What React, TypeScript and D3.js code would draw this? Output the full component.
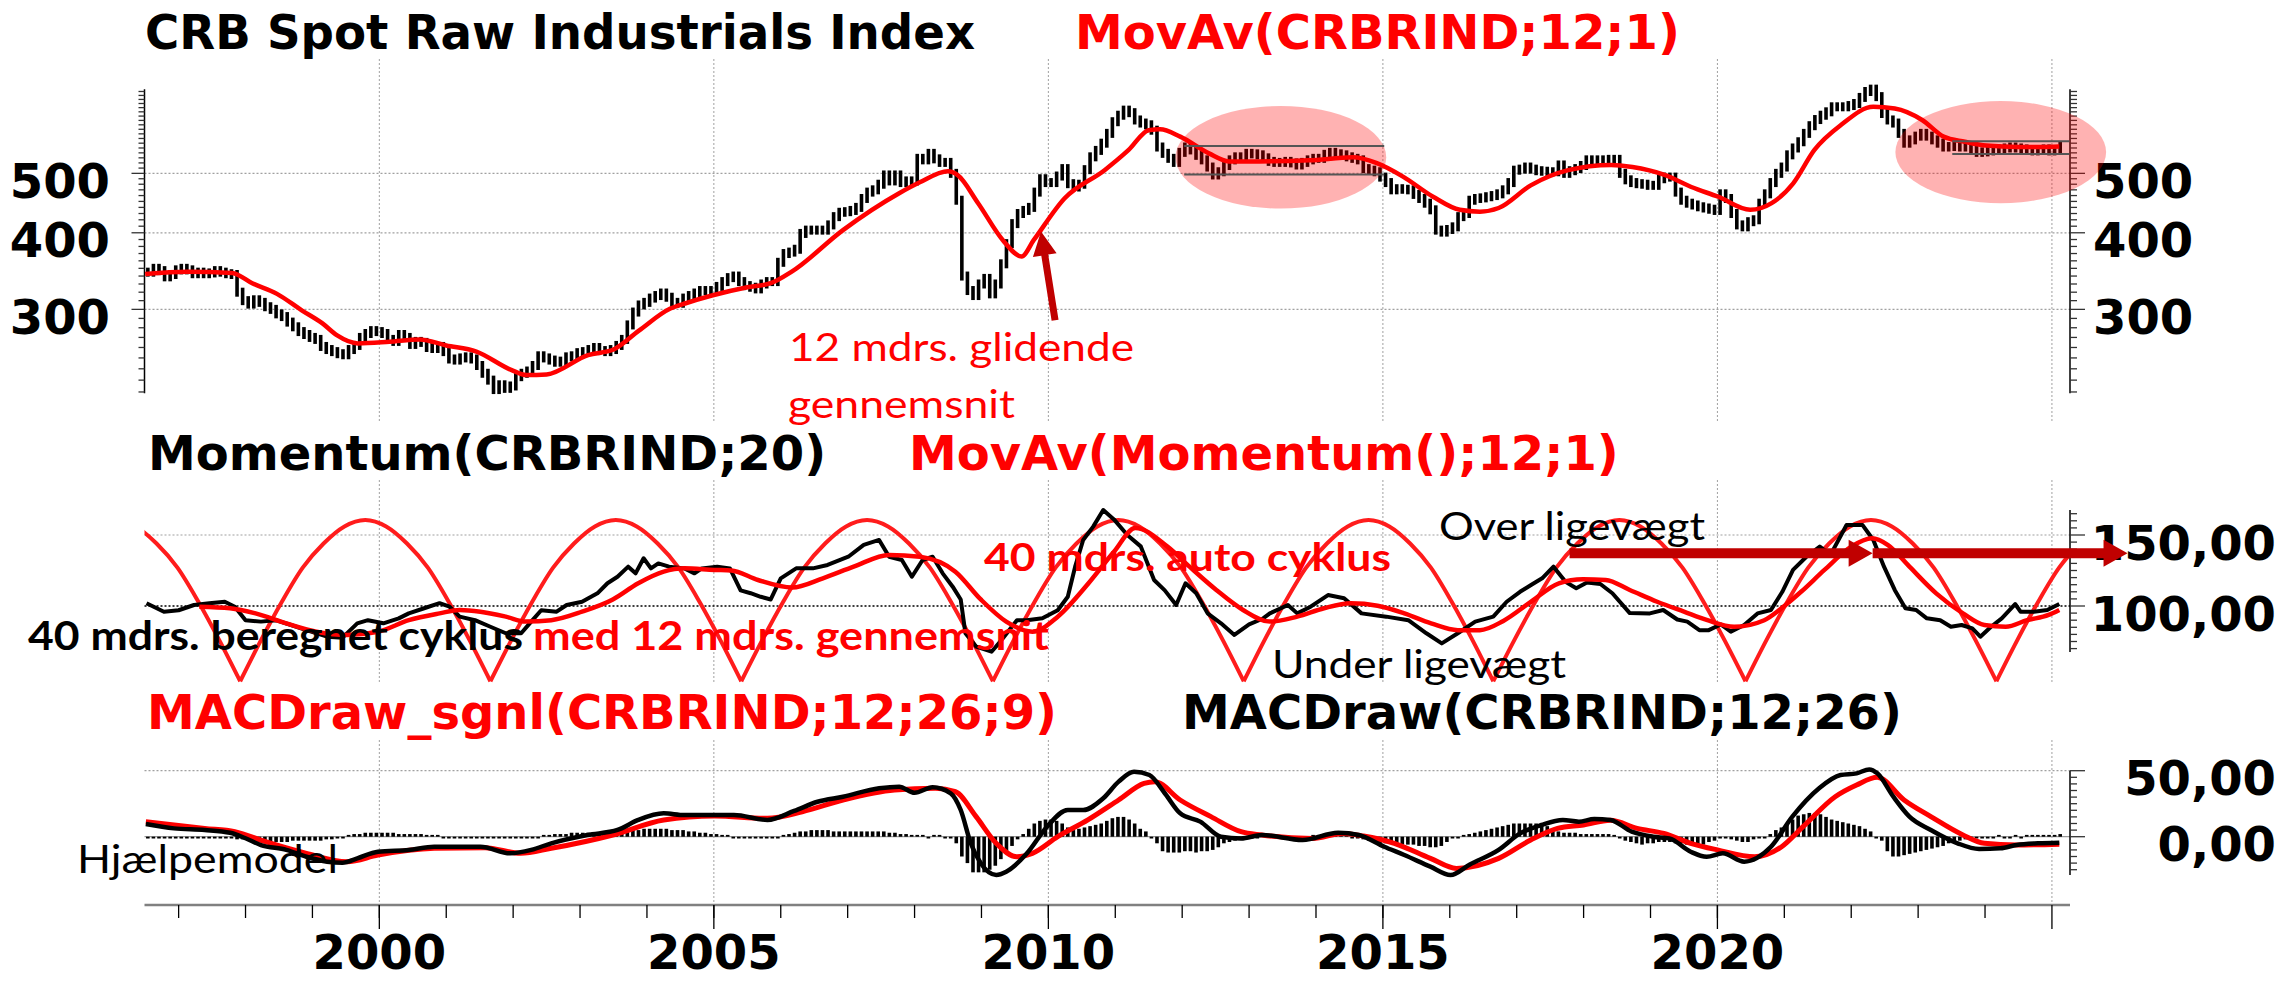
import React from "react";
import * as d3 from "d3";

const WIDTH = 2287;
const HEIGHT = 981;

// CRB Spot Raw Industrials, monthly closes, first month Jul 1996
const crbFirstMonth = 1996.5;
const crbMonthly = [
  345, 350, 347, 339, 342, 348,
  350, 348, 343, 345, 343, 344, 347, 345, 343, 342, 320, 310,
  306, 311, 308, 303, 300, 295, 292, 286, 281, 276, 273, 270,
  268, 261, 258, 256, 254, 253, 258, 262, 270, 274, 277, 276,
  274, 268, 266, 273, 270, 263, 266, 265, 260, 259, 261, 256,
  249, 248, 250, 251, 249, 243, 236, 230, 222, 226, 223, 225,
  233, 236, 238, 243, 252, 250, 248, 246, 247, 251, 252, 255,
  256, 258, 260, 257, 256, 258, 262, 268, 283, 297, 305, 308,
  313, 316, 319, 314, 308, 307, 313, 316, 319, 322, 322, 322,
  327, 333, 338, 340, 333, 328, 326, 324, 330, 333, 333, 358,
  370, 372, 376, 399, 404, 404, 404, 404, 412, 425, 432, 433,
  435, 440, 455, 466, 470, 480, 497, 486, 497, 483, 486, 486,
  529, 526, 539, 528, 521, 521, 500, 452, 340, 322, 316, 330,
  337, 318, 330, 356, 384, 414, 430, 435, 440, 466, 490, 483,
  483, 495, 509, 481, 475, 480, 507, 532, 545, 560, 581, 607,
  622, 634, 628, 611, 604, 600, 588, 552, 539, 529, 521, 541,
  552, 546, 535, 526, 512, 497, 503, 515, 526, 532, 529, 539,
  538, 536, 530, 523, 521, 521, 523, 520, 516, 521, 526, 529,
  529, 537, 541, 538, 536, 532, 529, 526, 509, 506, 503, 493,
  483, 470, 472, 471, 470, 462, 455, 447, 436, 404, 401, 405,
  409, 425, 430, 452, 455, 456, 458, 460, 463, 470, 483, 506,
  508, 512, 508, 505, 504, 503, 503, 516, 500, 505, 509, 515,
  526, 526, 526, 525, 527, 527, 500, 488, 483, 481, 480, 478,
  478, 490, 493, 493, 466, 452, 447, 444, 441, 439, 437, 435,
  463, 455, 430, 412, 409, 417, 420, 447, 463, 483, 500, 512,
  536, 550, 563, 581, 598, 612, 622, 630, 642, 642, 642, 645,
  650, 665, 680, 686, 667, 626, 611, 604, 581, 560, 567, 575,
  581, 575, 567, 560, 552, 553, 555, 552, 552, 546, 541, 542,
  544, 546, 548, 550, 552, 550, 548, 546, 544, 546, 548, 544,
  546, 555,
];

// MovAv(CRBRIND;12;1) [year, value]
const crbMovAv: [number, number][] = [
  [1996.5, 342.6], [1997.13, 345.5], [1997.8, 344], [1998.1, 331], [1998.47, 318],
  [1998.84, 299], [1999.15, 284.6], [1999.37, 272], [1999.68, 264], [2000.15, 265.7],
  [2000.6, 268], [2001.0, 262], [2001.45, 256], [2001.97, 239], [2002.2, 234.4],
  [2002.5, 235], [2003.12, 252.7], [2003.5, 258], [2003.88, 277], [2004.35, 301],
  [2004.58, 307], [2004.97, 316], [2005.5, 326], [2005.85, 331], [2006.17, 346],
  [2006.93, 404], [2007.77, 464], [2008.07, 483], [2008.5, 504], [2008.64, 497],
  [2008.95, 447], [2009.32, 389], [2009.6, 366], [2009.78, 389], [2010.24, 455],
  [2010.84, 506], [2011.2, 546], [2011.5, 588], [2011.67, 590], [2011.97, 574],
  [2012.4, 539], [2012.7, 523], [2013.15, 523], [2013.9, 525], [2014.55, 531],
  [2014.9, 520], [2015.3, 494], [2015.75, 458], [2016.15, 436], [2016.45, 433],
  [2016.73, 439], [2017.21, 478], [2017.77, 506], [2018.41, 516], [2018.73, 512],
  [2019.21, 497], [2019.61, 475], [2020.01, 458], [2020.49, 436], [2020.81, 447],
  [2021.13, 481], [2021.45, 546], [2021.85, 600], [2022.33, 642], [2022.65, 638],
  [2023.06, 611], [2023.38, 574], [2023.7, 563], [2024.02, 555], [2024.5, 552],
  [2024.82, 552], [2025.11, 553],
];

// Momentum(CRBRIND;20)
const momentum: [number, number][] = [
  [1996.52, 101.9], [1996.78, 96], [1997.0, 97], [1997.23, 100.7], [1997.46, 102],
  [1997.69, 103], [1997.84, 99.5], [1998.0, 90], [1998.23, 89], [1998.45, 90],
  [1998.68, 86.6], [1998.91, 83], [1999.22, 78.4], [1999.45, 77.7], [1999.67, 87.8],
  [1999.83, 90], [2000.06, 87.8], [2000.29, 91.3], [2000.44, 94.8], [2000.67, 98.4],
  [2000.9, 102], [2001.05, 99.5], [2001.2, 92.5], [2001.43, 90], [2001.66, 85.4],
  [2001.89, 80.8], [2002.12, 80.8], [2002.27, 89], [2002.42, 97], [2002.65, 96],
  [2002.8, 100.7], [2003.03, 103], [2003.26, 108.9], [2003.41, 116], [2003.56, 120.6],
  [2003.72, 127.7], [2003.83, 123], [2003.95, 133.6], [2004.06, 126.5], [2004.17, 130],
  [2004.33, 127.7], [2004.56, 126.5], [2004.71, 123], [2004.82, 126.5], [2005.05, 127.7],
  [2005.24, 126.5], [2005.4, 111], [2005.55, 109], [2005.7, 106.5], [2005.85, 104.6],
  [2006.0, 119.5], [2006.23, 126.5], [2006.48, 126.5], [2006.7, 128.9], [2007.01, 134.7],
  [2007.24, 143], [2007.47, 146.5], [2007.62, 134.7], [2007.81, 132.4], [2007.96, 120.6],
  [2008.12, 132.4], [2008.27, 134.7], [2008.42, 123], [2008.57, 113.6], [2008.69, 104.6],
  [2008.76, 80.8], [2008.92, 71.4], [2009.15, 67.8], [2009.3, 76], [2009.53, 90],
  [2009.68, 90], [2009.91, 91.3], [2010.14, 97], [2010.29, 106.5], [2010.4, 127.7],
  [2010.52, 146.5], [2010.67, 155.9], [2010.82, 167.6], [2010.98, 161], [2011.18, 150],
  [2011.38, 142], [2011.58, 118.3], [2011.74, 111], [2011.91, 100.7], [2012.05, 116],
  [2012.21, 109], [2012.38, 94.8], [2012.58, 87.8], [2012.78, 79.6], [2013.0, 87],
  [2013.2, 91], [2013.31, 94.8], [2013.58, 100.7], [2013.72, 94.8], [2013.92, 99.5],
  [2014.18, 107.7], [2014.42, 105.4], [2014.68, 94.8], [2015.05, 92.5], [2015.38, 90],
  [2015.65, 80.8], [2015.88, 73.7], [2016.12, 80.8], [2016.38, 89], [2016.65, 92.5],
  [2016.85, 103], [2017.05, 110], [2017.22, 115], [2017.38, 119.5], [2017.55, 127.7],
  [2017.73, 117], [2017.89, 112.5], [2018.05, 116.5], [2018.25, 115.5], [2018.43, 109],
  [2018.69, 95], [2018.99, 94.8], [2019.19, 97.2], [2019.4, 90.5], [2019.55, 89],
  [2019.73, 83], [2019.87, 83], [2020.05, 87], [2020.2, 81.9], [2020.4, 86.6],
  [2020.6, 94.8], [2020.8, 97.2], [2020.97, 110], [2021.13, 125.4], [2021.33, 134.7],
  [2021.53, 141.8], [2021.69, 136], [2021.93, 157], [2022.17, 157], [2022.33, 146.5],
  [2022.49, 127.7], [2022.65, 111.3], [2022.81, 98.4], [2022.97, 97.2], [2023.13, 91.3],
  [2023.33, 90], [2023.49, 85.4], [2023.65, 86.6], [2023.81, 84.2], [2023.93, 78.4],
  [2024.09, 85.4], [2024.25, 91.3], [2024.45, 101.4], [2024.53, 96], [2024.73, 96],
  [2024.93, 97.2], [2025.11, 101.4],
];

// MovAv(Momentum();12;1)
const momentumMovAv: [number, number][] = [
  [1997.31, 99.5], [1997.77, 98.4], [1998.15, 94.8], [1998.61, 87.8], [1999.06, 81.9],
  [1999.52, 79.6], [1999.98, 81.9], [2000.44, 90], [2000.9, 94.8], [2001.2, 97.2],
  [2001.51, 96], [2001.89, 92.5], [2002.19, 89], [2002.57, 90], [2003.03, 96],
  [2003.49, 104.6], [2003.87, 116], [2004.25, 124.2], [2004.56, 126.5], [2005.01, 125.4],
  [2005.26, 125], [2005.66, 118.3], [2006.17, 113], [2006.63, 119.5], [2007.09, 127.7],
  [2007.62, 136], [2008.08, 134.7], [2008.61, 124.2], [2008.99, 104.6], [2009.37, 89],
  [2009.76, 81.9], [2010.14, 92.5], [2010.6, 116], [2010.98, 138.2], [2011.3, 155],
  [2011.78, 141.8], [2012.11, 127.7], [2012.51, 111.3], [2012.91, 97.2], [2013.31, 89],
  [2013.72, 92.5], [2014.12, 98.4], [2014.52, 101.9], [2014.92, 100.2], [2015.32, 94.8],
  [2015.72, 87.8], [2016.12, 83], [2016.45, 83], [2016.8, 89.5], [2017.2, 102.5],
  [2017.63, 116], [2017.99, 118.8], [2018.33, 118.3], [2018.69, 111.3], [2019.1, 103],
  [2019.5, 96], [2019.85, 90], [2020.25, 85.4], [2020.7, 90], [2021.0, 100],
  [2021.25, 110], [2021.6, 125.4], [2022.0, 141.8], [2022.31, 147.7], [2022.55, 142.9],
  [2022.87, 127.7], [2023.27, 108.9], [2023.67, 94.8], [2023.99, 86.6], [2024.31, 85.4],
  [2024.63, 90], [2024.95, 93.7], [2025.11, 97.2],
];

// 40 mdrs. auto cyklus: trough dates and the level profile of one cycle
const cycleTroughs = [1994.17, 1997.92, 2001.66, 2005.41, 2009.17, 2012.92, 2016.65, 2020.42, 2024.17, 2027.92];
const cycleProfile = [47, 76, 103, 127, 144, 156, 160.5, 156, 144, 127, 103, 76, 47];

// MACDraw(CRBRIND;12;26)
const macdLine: [number, number][] = [
  [1996.51, 9.6], [1996.93, 6.3], [1997.39, 5.1], [1997.77, 3.0], [1998.0, -1.2],
  [1998.23, -6.3], [1998.61, -10], [1998.91, -15.2], [1999.22, -18.9], [1999.45, -19.7],
  [1999.67, -16.4], [1999.98, -11.4], [2000.44, -10], [2000.82, -7.6], [2001.51, -7.6],
  [2001.96, -12.6], [2002.27, -10], [2002.57, -5], [2003.11, 1.3], [2003.56, 5.1],
  [2003.87, 12.7], [2004.25, 17.7], [2004.56, 16.4], [2005.3, 16.4], [2005.8, 12.7],
  [2006.2, 19.5], [2006.55, 26.5], [2006.93, 30.3], [2007.47, 36.7], [2007.77, 37.9],
  [2008.0, 33.3], [2008.27, 37.4], [2008.54, 32.9], [2008.69, 20.2], [2008.84, -5],
  [2008.99, -20.2], [2009.22, -29], [2009.37, -26.5], [2009.68, -12.6], [2009.98, 7.6],
  [2010.29, 20.2], [2010.52, 20.2], [2010.82, 29.1], [2011.05, 41.7], [2011.28, 49.2],
  [2011.51, 46.7], [2011.74, 32.9], [2011.97, 17.7], [2012.27, 11.4], [2012.58, 0],
  [2012.88, -1.3], [2013.19, 1.3], [2013.8, -2.5], [2014.33, 3.0], [2014.64, 1.3],
  [2015.02, -7.6], [2015.32, -13.9], [2015.71, -22.7], [2016.01, -29], [2016.3, -21],
  [2016.73, -10], [2017.05, 2.5], [2017.37, 8.9], [2017.69, 12.7], [2017.93, 11.4],
  [2018.16, 13.4], [2018.4, 12.7], [2018.72, 3.8], [2019.04, 0], [2019.28, -1.3],
  [2019.6, -11.4], [2019.84, -15.2], [2020.08, -12.6], [2020.4, -18.9], [2020.8, -7.6],
  [2021.12, 15.2], [2021.52, 36.7], [2021.84, 46.7], [2022.08, 48], [2022.27, 51],
  [2022.39, 48], [2022.63, 30.3], [2022.87, 15.2], [2023.19, 5.1], [2023.59, -5],
  [2023.91, -9.3], [2024.23, -8.8], [2024.47, -6.3], [2024.79, -5], [2025.11, -4.5],
];

// MACDraw_sgnl(CRBRIND;12;26;9)
const macdSignal: [number, number][] = [
  [1996.51, 11.4], [1997.39, 6.3], [1997.84, 3.8], [1998.3, -3.8], [1998.91, -12.6],
  [1999.52, -18.9], [1999.98, -13.9], [2000.82, -8.8], [2001.58, -8.3], [2002.11, -12.6],
  [2002.57, -8.8], [2003.49, 1.3], [2004.25, 12.7], [2005.01, 15.7], [2005.8, 13.9],
  [2006.32, 18.9], [2006.93, 27.8], [2007.7, 35.4], [2008.31, 36.7], [2008.61, 34.1],
  [2008.92, 15.2], [2009.22, -5], [2009.53, -15.2], [2009.76, -12.6], [2010.14, 0],
  [2010.59, 12.7], [2011.05, 27.8], [2011.43, 40.4], [2011.59, 41.7], [2011.97, 27.8],
  [2012.43, 15.2], [2012.88, 3.8], [2013.19, 1.3], [2013.95, -1.3], [2014.41, 2.5],
  [2014.71, 0.5], [2015.17, -5], [2015.71, -16.4], [2016.1, -24], [2016.73, -16.4],
  [2017.21, -2.5], [2017.61, 6.3], [2018.0, 8.9], [2018.4, 12.4], [2018.8, 6.3],
  [2019.2, 2.5], [2019.6, -5], [2020.0, -10], [2020.56, -15.2], [2020.96, -7.6],
  [2021.28, 7.6], [2021.76, 30.3], [2022.08, 39.2], [2022.39, 45], [2022.79, 27.8],
  [2023.19, 15.2], [2023.67, 1.3], [2023.99, -5], [2024.47, -6.3], [2025.11, -5.7],
];

// histogram, monthly from Jul 1996
const macdHist = [
  -1, -1, -1, -1, -1, -1,
  -1, -1, -1, -1, -1, -1, -1, -1, -1, -1, -2, -2,
  -3, -3, -4, -4, -4, -4, -4, -4, -3, -3, -3, -3,
  -3, -3, -2, -2, -1, 0, 1, 2, 2, 3, 3, 3,
  3, 3, 3, 2, 2, 2, 2, 2, 1, 1, 1, 0,
  0, 0, 0, 0, 0, 0, -1, -1, -1, -1, -1, -1,
  -1, -1, -1, 0, 0, 1, 1, 2, 2, 2, 3, 3,
  3, 3, 3, 3, 3, 4, 4, 4, 4, 5, 5, 6,
  6, 6, 6, 6, 5, 5, 5, 4, 4, 3, 3, 2,
  2, 1, 1, 0, 0, -1, -1, -1, -1, -1, -1, 0,
  1, 2, 3, 4, 4, 5, 5, 5, 5, 4, 4, 4,
  4, 4, 4, 4, 4, 4, 4, 3, 3, 2, 2, 1,
  1, 1, 0, 1, 1, 0, -1, -5, -15, -20, -27, -27,
  -27, -25, -22, -17, -12, -7, -2, 2, 6, 10, 12, 13,
  13, 12, 10, 7, 5, 6, 7, 8, 9, 10, 12, 14,
  15, 15, 13, 10, 6, 4, -1, -5, -11, -12, -12, -12,
  -11, -11, -12, -11, -11, -10, -8, -5, -4, -3, -2, -1,
  0, 0, 1, 1, 1, 0, 0, 0, -1, 0, 0, 1,
  1, 2, 2, 2, 1, 1, 0, -1, -2, -3, -4, -5,
  -5, -5, -6, -6, -6, -6, -7, -7, -8, -8, -7, -4,
  -1, 0, 1, 2, 3, 4, 5, 6, 7, 8, 9, 10,
  10, 10, 10, 10, 9, 8, 6, 4, 3, 3, 3, 2,
  2, 2, 2, 2, 2, 1, 0, -3, -4, -5, -6, -5,
  -5, -4, -4, -4, -5, -5, -6, -6, -6, -6, -4, -3,
  -1, -1, -2, -3, -4, -4, -2, -1, 0, 2, 5, 7,
  10, 13, 16, 17, 18, 18, 17, 15, 13, 12, 11, 10,
  9, 8, 6, 4, 0, -3, -11, -15, -15, -14, -13, -12,
  -11, -10, -9, -8, -7, -5, -4, -3, -2, -1, -1, 0,
  0, 0, 1, 0, 0, 1, 0, 1, 1, 1, 1, 1,
  1, 2,
];

const yearLabels = [2000, 2005, 2010, 2015, 2020];
const yearGrid = [2000, 2005, 2010, 2015, 2020, 2025];
const priceLabels = [300, 400, 500];
const momentumLabels = [100, 150];
const macdLabels = [0, 50];

// annotation anchors in data units
const rangeBoxes = [
  { from: 2012.03, to: 2015.02, hi: 554, lo: 498, ell: [2011.9, 2015.05, 644, 438] },
  { from: 2023.51, to: 2025.26, hi: 564, lo: 537.6, ell: [2022.66, 2025.81, 656, 447] },
];
const maArrow = { from: [2010.1, 288], to: [2009.89, 402] };
const momArrows = [
  { from: 2017.79, to: 2022.32, level: 137.1 },
  { from: 2022.32, to: 2026.13, level: 137.1 },
];

const TITLE_FONT = "'DejaVu Sans', Verdana, sans-serif";
const NOTE_FONT = "Lato, 'Open Sans', sans-serif";
const RED = "#ff0000";
const DARK_RED = "#c00000";
const GRID = "#a0a0a0";

function arrowPath(x1: number, y1: number, x2: number, y2: number, shaft: number, headLen: number, headHalf: number) {
  const dx = x2 - x1, dy = y2 - y1;
  const len = Math.hypot(dx, dy);
  const ux = dx / len, uy = dy / len;
  const nx = -uy, ny = ux;
  const bx = x2 - ux * headLen, by = y2 - uy * headLen;
  const p = [
    [x1 + nx * shaft, y1 + ny * shaft],
    [bx + nx * shaft, by + ny * shaft],
    [bx + nx * headHalf, by + ny * headHalf],
    [x2, y2],
    [bx - nx * headHalf, by - ny * headHalf],
    [bx - nx * shaft, by - ny * shaft],
    [x1 - nx * shaft, y1 - ny * shaft],
  ];
  return "M" + p.map((d) => d.join(",")).join("L") + "Z";
}

export default function App() {
  const x = d3.scaleLinear().domain([1996.49, 2025.27]).range([144.5, 2070]);
  const [x0, x1] = x.range();
  const yP = d3.scaleLog().domain([218.9, 685.6]).range([393.3, 89.3]);
  const yM = d3.scaleLinear().domain([100, 150]).range([606, 535]);
  const yD = d3.scaleLinear().domain([0, 50]).range([836.7, 770.7]);

  const monthYear = (i: number) => crbFirstMonth + i / 12 + 0.04;

  const priceLine = d3.line<[number, number]>().x((d) => x(d[0])).y((d) => yP(d[1])).curve(d3.curveMonotoneX);
  const momLine = d3.line<[number, number]>().x((d) => x(d[0])).y((d) => yM(d[1]));
  const momSmooth = d3.line<[number, number]>().x((d) => x(d[0])).y((d) => yM(d[1])).curve(d3.curveMonotoneX);
  const macdPath = d3.line<[number, number]>().x((d) => x(d[0])).y((d) => yD(d[1])).curve(d3.curveMonotoneX);

  const cycleArcs = d3.pairs(cycleTroughs).map(([a, b]) =>
    momSmooth(cycleProfile.map((v, j) => [a + ((b - a) * j) / (cycleProfile.length - 1), v] as [number, number]))
  );

  const priceMinor = d3.range(220, 690, 10);
  const momTicks = d3.range(70, 170, 5);
  const macdTicks = d3.range(-25, 55, 5);
  const yearMinor = d3.range(1997, 2025);

  const panels = [
    [59, 421],
    [480, 682],
    [740, 905],
  ];

  const label = { fontFamily: TITLE_FONT, fontWeight: "bold" as const, fontSize: 48 };

  return (
    <svg
      width={WIDTH}
      height={HEIGHT}
      viewBox={`0 0 ${WIDTH} ${HEIGHT}`}
      style={{ position: "absolute", left: 0, top: 0, background: "#fff" }}
    >
      <defs>
        <clipPath id="plotClip">
          <rect x={x0} y={0} width={x1 - x0} height={HEIGHT} />
        </clipPath>
      </defs>
      <rect width={WIDTH} height={HEIGHT} fill="#fff" />

      {/* vertical gridlines per panel */}
      {panels.map(([t, b], pi) =>
        yearGrid.map((yr) => (
          <line key={`vg${pi}-${yr}`} x1={x(yr)} x2={x(yr)} y1={t} y2={b} stroke={GRID} strokeWidth={1} strokeDasharray="2,2" />
        ))
      )}

      {/* price panel */}
      {priceLabels.map((v) => (
        <line key={`hp${v}`} x1={x0} x2={x1} y1={yP(v)} y2={yP(v)} stroke={GRID} strokeWidth={1.2} strokeDasharray="2,2" />
      ))}
      <line x1={x0} x2={x0} y1={yP(685.6)} y2={yP(218.9)} stroke="#000" strokeWidth={1.5} />
      <line x1={x1} x2={x1} y1={yP(685.6)} y2={yP(218.9)} stroke="#000" strokeWidth={1.5} />
      {priceMinor.map((v) => {
        const major = priceLabels.includes(v);
        return (
          <g key={`pt${v}`}>
            <line x1={x0 - (major ? 13 : 6)} x2={x0} y1={yP(v)} y2={yP(v)} stroke="#333" strokeWidth={1.3} />
            <line x1={x1} x2={x1 + (major ? 15 : 7)} y1={yP(v)} y2={yP(v)} stroke="#333" strokeWidth={1.3} />
          </g>
        );
      })}
      {priceLabels.map((v) => (
        <g key={`pl${v}`}>
          <text x={110} y={yP(v) + 24.5} textAnchor="end" {...label}>{v}</text>
          <text x={2093} y={yP(v) + 24.5} textAnchor="start" {...label}>{v}</text>
        </g>
      ))}
      {crbMonthly.map((v, i) => {
        const prev = i > 0 ? crbMonthly[i - 1] : v;
        const hi = Math.max(prev, v);
        const lo = Math.min(prev, v);
        return (
          <line
            key={`bar${i}`}
            x1={x(monthYear(i))}
            x2={x(monthYear(i))}
            y1={yP(hi) - 4.5}
            y2={yP(lo) + 4.5}
            stroke="#000"
            strokeWidth={3.6}
          />
        );
      })}
      <path d={priceLine(crbMovAv) || ""} fill="none" stroke={RED} strokeWidth={4.5} strokeLinejoin="round" />
      {rangeBoxes.map((r, i) => {
        const [ea, eb, eh, el] = r.ell;
        const cx = (x(ea) + x(eb)) / 2;
        const cy = (yP(eh) + yP(el)) / 2;
        return (
          <g key={`rb${i}`}>
            <ellipse cx={cx} cy={cy} rx={(x(eb) - x(ea)) / 2} ry={(yP(el) - yP(eh)) / 2} fill={RED} fillOpacity={0.3} />
            <line x1={x(r.from)} x2={x(r.to)} y1={yP(r.hi)} y2={yP(r.hi)} stroke="#555" strokeWidth={2} />
            <line x1={x(r.from)} x2={x(r.to)} y1={yP(r.lo)} y2={yP(r.lo)} stroke="#555" strokeWidth={2} />
          </g>
        );
      })}
      <path
        d={arrowPath(x(maArrow.from[0]), yP(maArrow.from[1]), x(maArrow.to[0]), yP(maArrow.to[1]), 3.5, 24, 12)}
        fill={DARK_RED}
      />

      {/* momentum panel */}
      <line x1={x0} x2={x1} y1={yM(150)} y2={yM(150)} stroke={GRID} strokeWidth={1.2} strokeDasharray="2,2" />
      <line x1={x0} x2={x1} y1={yM(100)} y2={yM(100)} stroke="#000" strokeWidth={1.5} strokeDasharray="2,2" />
      <line x1={x1} x2={x1} y1={yM(167.6)} y2={yM(67.6)} stroke="#000" strokeWidth={1.5} />
      {momTicks.map((v) => (
        <line key={`mt${v}`} x1={x1} x2={x1 + (momentumLabels.includes(v) ? 15 : 7)} y1={yM(v)} y2={yM(v)} stroke="#333" strokeWidth={1.3} />
      ))}
      {momentumLabels.map((v) => (
        <text key={`ml${v}`} x={2276} y={yM(v) + 24.5} textAnchor="end" {...label}>
          {d3.format(".2f")(v).replace(".", ",")}
        </text>
      ))}
      <g clipPath="url(#plotClip)">
        {cycleArcs.map((d, i) => (
          <path key={`cy${i}`} d={d || ""} fill="none" stroke="#ff1c1c" strokeWidth={4} />
        ))}
      </g>
      <path d={momLine(momentum) || ""} fill="none" stroke="#000" strokeWidth={4} strokeLinejoin="round" />
      <path d={momSmooth(momentumMovAv) || ""} fill="none" stroke={RED} strokeWidth={4.5} strokeLinejoin="round" />
      {momArrows.map((a, i) => (
        <path key={`ma${i}`} d={arrowPath(x(a.from), yM(a.level), x(a.to), yM(a.level), 5, 24, 13.5)} fill={DARK_RED} />
      ))}

      {/* MACD panel */}
      <line x1={x0} x2={x1} y1={yD(50)} y2={yD(50)} stroke={GRID} strokeWidth={1.2} strokeDasharray="2,2" />
      <line x1={x0} x2={x1} y1={yD(0)} y2={yD(0)} stroke="#9a9a9a" strokeWidth={1.2} />
      <line x1={x1} x2={x1} y1={yD(50)} y2={yD(-29)} stroke="#000" strokeWidth={1.5} />
      {macdTicks.map((v) => (
        <line key={`dt${v}`} x1={x1} x2={x1 + (macdLabels.includes(v) ? 15 : 7)} y1={yD(v)} y2={yD(v)} stroke="#333" strokeWidth={1.3} />
      ))}
      {macdLabels.map((v) => (
        <text key={`dl${v}`} x={2276} y={yD(v) + 24.5} textAnchor="end" {...label}>
          {d3.format(".2f")(v).replace(".", ",")}
        </text>
      ))}
      {macdHist.map((v, i) => {
        const y0 = yD(0);
        const y1 = yD(v);
        const h = Math.max(Math.abs(y1 - y0), 1.8);
        const top = v > 0 ? y0 - h : y0;
        return <rect key={`h${i}`} x={x(monthYear(i)) - 1.8} y={top} width={3.6} height={h} fill="#000" />;
      })}
      <path d={macdPath(macdSignal) || ""} fill="none" stroke={RED} strokeWidth={5} strokeLinejoin="round" />
      <path d={macdPath(macdLine) || ""} fill="none" stroke="#000" strokeWidth={4.5} strokeLinejoin="round" />

      {/* time axis */}
      <line x1={x0} x2={x1} y1={905} y2={905} stroke="#808080" strokeWidth={2.5} />
      {yearMinor.map((yr) => (
        <line key={`ym${yr}`} x1={x(yr)} x2={x(yr)} y1={905} y2={918} stroke="#000" strokeWidth={1.3} />
      ))}
      {yearGrid.map((yr) => (
        <line key={`yM${yr}`} x1={x(yr)} x2={x(yr)} y1={905} y2={929} stroke="#000" strokeWidth={1.3} />
      ))}
      {yearLabels.map((yr) => (
        <text key={`yl${yr}`} x={x(yr)} y={969} textAnchor="middle" {...label}>{yr}</text>
      ))}

      {/* titles */}
      <text x={145} y={49} {...label} textLength={830} lengthAdjust="spacingAndGlyphs">CRB Spot Raw Industrials Index</text>
      <text x={1075} y={49} {...label} fill={RED}>MovAv(CRBRIND;12;1)</text>
      <text x={148} y={470} {...label}>Momentum(CRBRIND;20)</text>
      <text x={909} y={470} {...label} fill={RED}>MovAv(Momentum();12;1)</text>
      <text x={147} y={729} {...label} fill={RED}>MACDraw_sgnl(CRBRIND;12;26;9)</text>
      <text x={1182} y={729} {...label}>MACDraw(CRBRIND;12;26)</text>

      {/* annotations */}
      <g fontFamily={NOTE_FONT}>
        <text x={789} y={361} fontSize={38} fill={RED} textLength={345} lengthAdjust="spacingAndGlyphs">12 mdrs. glidende</text>
        <text x={788} y={418} fontSize={38} fill={RED} textLength={227} lengthAdjust="spacingAndGlyphs">gennemsnit</text>
        <text x={28} y={650} fontSize={41} fontWeight="bold" fill="#000" textLength={495} lengthAdjust="spacingAndGlyphs">40 mdrs. beregnet cyklus</text>
        <text x={533} y={650} fontSize={41} fontWeight="bold" fill={RED} textLength={516} lengthAdjust="spacingAndGlyphs">med 12 mdrs. gennemsnit</text>
        <text x={984} y={571} fontSize={39} fontWeight="bold" fill={RED} textLength={407} lengthAdjust="spacingAndGlyphs">40 mdrs. auto cyklus</text>
        <text x={1439} y={540} fontSize={38} fill="#000" textLength={266} lengthAdjust="spacingAndGlyphs">Over ligevægt</text>
        <text x={1272} y={678} fontSize={38} fill="#000" textLength={294} lengthAdjust="spacingAndGlyphs">Under ligevægt</text>
        <text x={77} y={873} fontSize={38} fill="#000" textLength={261} lengthAdjust="spacingAndGlyphs">Hjælpemodel</text>
      </g>
    </svg>
  );
}
